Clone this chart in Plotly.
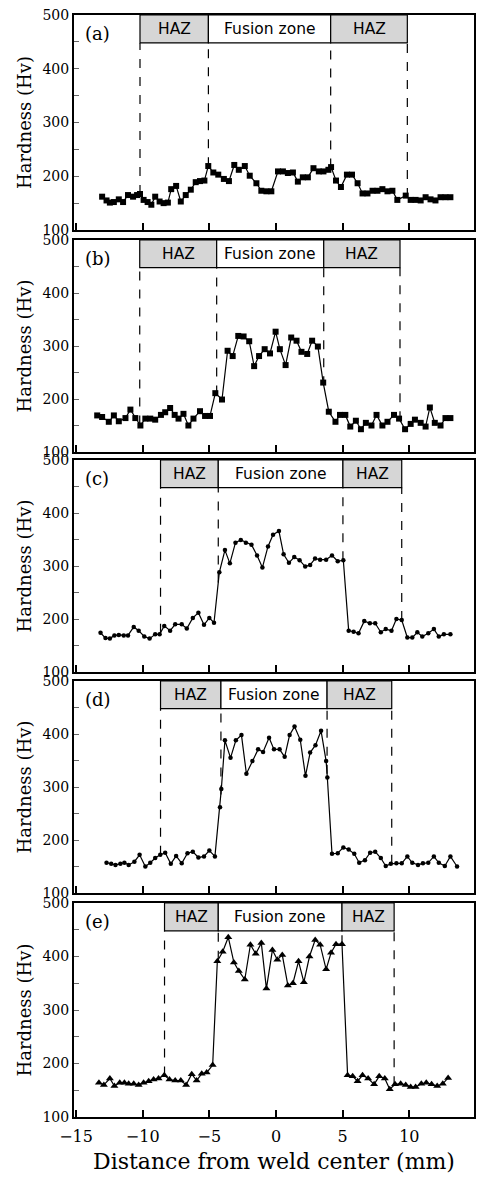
import plotly.graph_objects as go
import numpy as np

# ---------------- data ----------------
xa = [-13.04,-12.71,-12.46,-12.16,-11.79,-11.47,-11.10,-10.72,-10.42,-10.20,-9.93,-9.63,-9.35,-9.06,-8.73,-8.43,-8.11,-7.86,-7.49,-7.14,-6.77,-6.39,-6.02,-5.70,-5.37,-5.08,-4.70,-4.33,-3.91,-3.53,-3.13,-2.79,-2.34,-1.97,-1.47,-1.10,-0.72,-0.35,0.15,0.52,0.89,1.27,1.64,2.01,2.39,2.81,3.21,3.56,3.93,4.13,4.50,4.87,5.32,5.70,6.12,6.49,6.86,7.24,7.61,7.98,8.36,8.73,9.10,9.73,10.10,10.47,10.85,11.22,11.59,11.96,12.34,12.71,13.08]
ya = [162,155,151,152,157,152,165,162,165,167,156,152,147,162,153,150,151,176,182,153,165,175,189,191,192,219,207,203,195,191,221,212,219,201,187,173,172,172,209,209,206,207,190,198,198,215,209,209,212,217,192,180,203,203,187,168,168,173,173,176,172,173,156,164,156,156,155,161,157,155,161,161,161]

xb = [-13.41,-13.04,-12.54,-12.16,-11.79,-11.29,-10.92,-10.55,-10.17,-9.80,-9.43,-9.06,-8.63,-8.31,-7.94,-7.60,-7.31,-6.94,-6.57,-6.19,-5.70,-5.32,-4.95,-4.55,-4.05,-3.63,-3.25,-2.83,-2.43,-2.01,-1.64,-1.27,-0.85,-0.45,-0.03,0.29,0.72,1.14,1.54,1.91,2.34,2.71,3.14,3.54,3.96,4.46,4.80,5.20,5.57,5.99,6.37,6.74,7.16,7.54,7.98,8.36,8.85,9.23,9.68,10.10,10.42,10.85,11.22,11.54,11.91,12.34,12.71,13.08]
yb = [169,166,157,169,158,164,180,164,150,163,163,161,170,175,183,170,163,172,150,163,177,168,168,211,199,291,281,319,318,309,262,281,294,286,327,294,264,316,310,289,285,310,299,231,176,157,170,170,148,159,143,155,150,170,150,157,170,163,143,153,161,155,148,184,155,150,164,164]

xc = [-13.16,-12.79,-12.46,-12.12,-11.79,-11.42,-11.10,-10.67,-10.30,-9.88,-9.48,-9.06,-8.73,-8.38,-7.94,-7.56,-7.07,-6.69,-6.24,-5.82,-5.40,-5.00,-4.65,-4.25,-3.83,-3.46,-3.04,-2.64,-2.26,-1.84,-1.42,-1.02,-0.60,-0.22,0.22,0.57,0.97,1.37,1.77,2.19,2.56,2.93,3.31,3.76,4.20,4.63,5.05,5.45,5.82,6.19,6.62,7.04,7.44,7.86,8.23,8.66,9.03,9.43,9.85,10.22,10.60,10.97,11.42,11.84,12.21,12.59,13.08]
yc = [174,164,163,169,170,169,169,185,178,167,163,171,171,187,178,190,190,182,202,212,189,202,193,288,330,305,344,349,344,340,320,297,337,359,366,322,306,317,311,299,302,314,312,312,320,309,311,178,176,173,196,192,192,175,181,178,200,198,165,165,175,167,173,181,167,171,171]

xd = [-12.71,-12.36,-12.04,-11.67,-11.37,-11.05,-10.62,-10.23,-9.80,-9.43,-9.06,-8.68,-8.31,-7.89,-7.49,-7.07,-6.64,-6.24,-5.82,-5.40,-5.00,-4.58,-4.20,-4.10,-3.83,-3.41,-3.01,-2.59,-2.22,-1.77,-1.34,-0.97,-0.52,-0.15,0.27,0.65,1.02,1.39,1.82,2.21,2.56,2.96,3.38,3.76,3.85,4.20,4.63,5.05,5.45,5.87,6.24,6.67,7.06,7.44,7.86,8.23,8.61,9.03,9.43,9.85,10.22,10.65,11.02,11.42,11.84,12.21,12.66,13.08,13.58]
yd = [157,155,153,155,157,153,159,172,150,157,166,172,176,155,170,156,175,178,167,169,180,169,262,296,388,355,388,398,325,349,371,366,393,371,371,357,398,414,389,321,365,379,406,349,318,174,175,186,182,174,157,162,176,178,166,151,155,156,156,169,157,153,156,157,169,157,151,169,150]

xe = [-13.28,-12.91,-12.46,-12.12,-11.72,-11.37,-11.05,-10.67,-10.30,-9.93,-9.55,-9.18,-8.81,-8.38,-7.99,-7.56,-7.14,-6.74,-6.32,-5.95,-5.57,-5.20,-4.75,-4.40,-4.00,-3.58,-3.16,-2.79,-2.34,-1.92,-1.52,-1.10,-0.72,-0.27,0.10,0.47,0.89,1.27,1.69,2.09,2.51,2.94,3.31,3.76,4.13,4.50,4.95,5.37,5.75,6.12,6.49,6.91,7.36,7.74,8.16,8.53,8.93,9.35,9.73,10.10,10.47,10.90,11.27,11.67,12.09,12.51,12.91]
ye = [164,160,172,158,164,164,162,162,160,164,167,170,172,178,170,168,168,160,180,168,181,183,197,391,409,436,389,373,357,422,405,425,340,412,394,403,346,350,391,352,400,431,422,376,407,423,423,178,176,167,178,172,161,176,172,152,161,162,160,156,156,162,164,161,158,162,173]

# zone boundaries: HAZ start, fusion start, fusion end, HAZ end (mm)
zones_a = [-10.20, -5.07, 4.10, 9.85]
zones_b = [-10.22, -4.45, 3.58, 9.30]
zones_c = [-8.66, -4.33, 5.02, 9.43]
zones_d = [-8.66, -4.13, 3.83, 8.68]
zones_e = [-8.36, -4.33, 4.95, 8.86]

panel_labels = ["(a)", "(b)", "(c)", "(d)", "(e)"]
zone_names = ["HAZ", "Fusion zone", "HAZ"]
x_ticks = [-15, -10, -5, 0, 5, 10, 15]
y_ticks = [100, 150, 200, 250, 300, 350, 400, 450, 500]
y_ticktext = ["100", "", "200", "", "300", "", "400", "", "500"]

# ---------------- layout constants ----------------
W, H = 477, 1177
ML, MR, MT, MB = 74, 1, 15, 60
PH = H - MT - MB
panel_px = [(15, 230), (240, 452), (460, 672), (681, 893), (903, 1117)]
BOX_BOTTOM = 448
SERIF = "DejaVu Serif"
SANS = "DejaVu Sans"

panels = [
    (xa, ya, zones_a, "square", 6),
    (xb, yb, zones_b, "square", 6),
    (xc, yc, zones_c, "circle", 4.5),
    (xd, yd, zones_d, "circle", 4.5),
    (xe, ye, zones_e, "triangle-up", 7),
]

fig = go.Figure()
shapes = []
annotations = []
layout_axes = {}

for i, (xs, ys, zones, sym, msize) in enumerate(panels):
    k = "" if i == 0 else str(i + 1)
    top, bot = panel_px[i]
    dom = [(H - MB - bot) / PH, (H - MB - top) / PH]
    fig.add_trace(go.Scatter(
        x=xs, y=ys, mode="lines+markers",
        line=dict(color="black", width=1.2),
        marker=dict(symbol=sym, size=msize, color="black"),
        xaxis="x" + k, yaxis="y" + k, showlegend=False, hoverinfo="skip"))

    layout_axes["xaxis" + k] = dict(
        domain=[0, 1], range=[-15.15, 14.85], anchor="y" + k,
        tickvals=x_ticks, ticks="inside", ticklen=7, tickwidth=1.5, tickcolor="black",
        showticklabels=(i == 4), showline=True, mirror=True, linewidth=2, linecolor="black",
        showgrid=False, zeroline=False,
        tickfont=dict(family=SERIF, size=16, color="black"),
        ticklabelstandoff=4,
        title=dict(text="Distance from weld center (mm)" if i == 4 else "",
                   font=dict(family=SERIF, size=22, color="black"), standoff=8),
    )
    layout_axes["yaxis" + k] = dict(
        domain=dom, range=[100, 500], anchor="x" + k,
        tickvals=y_ticks, ticktext=y_ticktext, ticks="inside", ticklen=5, tickcolor="#666",
        showline=True, mirror=True, linewidth=2, linecolor="black",
        showgrid=False, zeroline=False,
        tickfont=dict(family=SERIF, size=14, color="black"),
        title=dict(text="Hardness (Hv)", font=dict(family=SERIF, size=18, color="black"), standoff=6),
    )

    # zone boxes
    fills = ["#d6d6d6", "white", "#d6d6d6"]
    for j in range(3):
        x0, x1 = zones[j], zones[j + 1]
        shapes.append(dict(type="rect", xref="x" + k, yref="y" + k,
                           x0=x0, x1=x1, y0=BOX_BOTTOM, y1=500,
                           fillcolor=fills[j], line=dict(color="black", width=1.2), layer="above"))
        annotations.append(dict(xref="x" + k, yref="y" + k, x=(x0 + x1) / 2, y=(BOX_BOTTOM + 500) / 2,
                                text=zone_names[j], showarrow=False,
                                font=dict(family=SANS, size=15.5, color="black")))
    # dashed boundary lines
    for zx in zones:
        yb_end = float(np.interp(zx, xs, ys))
        shapes.append(dict(type="line", xref="x" + k, yref="y" + k,
                           x0=zx, x1=zx, y0=yb_end, y1=BOX_BOTTOM,
                           line=dict(color="black", width=1.2, dash="dash")))
    annotations.append(dict(xref="x" + k + " domain", yref="y" + k + " domain",
                            x=0.022, y=0.915, xanchor="left", yanchor="middle",
                            text=panel_labels[i], showarrow=False,
                            font=dict(family=SERIF, size=18, color="black")))

fig.update_layout(
    width=W, height=H,
    margin=dict(l=ML, r=MR, t=MT, b=MB),
    paper_bgcolor="white", plot_bgcolor="white",
    shapes=shapes, annotations=annotations,
    **layout_axes,
)

fig.write_html("out.html")
